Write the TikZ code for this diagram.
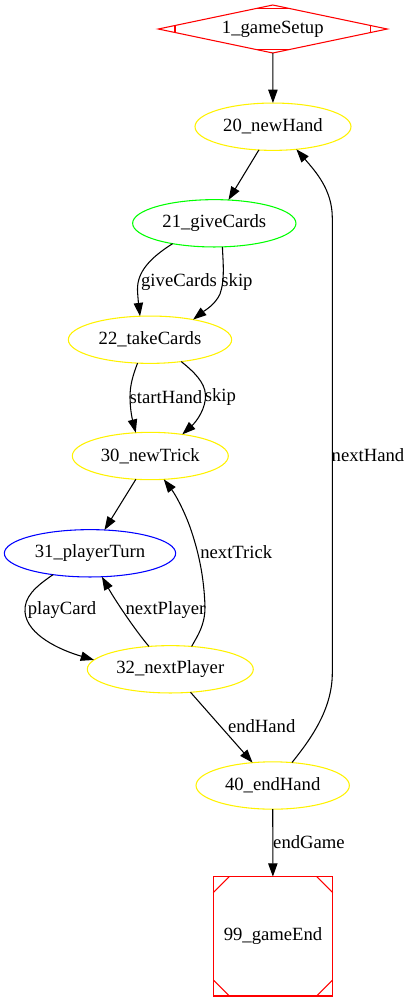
\documentclass[tikz,border=0pt]{standalone}
\usepackage{fontspec}
\setmainfont{Liberation Serif}
\usetikzlibrary{shapes.geometric,arrows.meta,calc}
\begin{document}
\begin{tikzpicture}[x=0.75pt,y=-0.75pt,
  every node/.style={font=\fontsize{14pt}{16pt}\selectfont},
  st/.style={draw,ellipse,line width=0.8pt,inner sep=0pt,outer sep=0pt,minimum height=35.5pt},
  edge/.style={draw=black,line width=0.8pt,-{Triangle[length=10pt,width=7pt]}},
  lbl/.style={inner sep=0pt}]
\useasboundingbox (0,0) rectangle (410,1001);
% nodes
\node[draw=red,diamond,line width=0.8pt,minimum width=171.75pt,minimum height=36pt,inner sep=0pt,outer sep=0pt,aspect=4.77] (n1) at (272.8,29) {1\_gameSetup};
\node[st,draw=yellow,minimum width=117pt] (n20) at (273,126.7) {20\_newHand};
\node[st,draw=green,minimum width=122.5pt] (n21) at (214.3,223.3) {21\_giveCards};
\node[st,draw=yellow,minimum width=122.5pt] (n22) at (150,339.7) {22\_takeCards};
\node[st,draw=yellow,minimum width=117pt] (n30) at (150.3,456) {30\_newTrick};
\node[st,draw=blue,minimum width=128.5pt] (n31) at (90,553.3) {31\_playerTurn};
\node[st,draw=yellow,minimum width=124.5pt] (n32) at (170.3,669.3) {32\_nextPlayer};
\node[st,draw=yellow,minimum width=115pt] (n40) at (272.7,785.5) {40\_endHand};
\node[draw=red,rectangle,line width=0.8pt,minimum width=89.5pt,minimum height=89.5pt,inner sep=0pt,outer sep=0pt] (n99) at (273,936.3) {99\_gameEnd};
% Mdiamond marks
\draw[red,line width=0.8pt] ($(n1.center)+(-97.8,-3.5)$) -- ($(n1.center)+(-97.8,3.5)$);
\draw[red,line width=0.8pt] ($(n1.center)+(97.8,-3.5)$) -- ($(n1.center)+(97.8,3.5)$);
\draw[red,line width=0.8pt] ($(n1.center)+(-16.7,-20.5)$) -- ($(n1.center)+(16.7,-20.5)$);
\draw[red,line width=0.8pt] ($(n1.center)+(-16.7,20.5)$) -- ($(n1.center)+(16.7,20.5)$);
% Msquare marks
\draw[red,line width=0.8pt] ($(n99.north west)+(0,16)$) -- ($(n99.north west)+(16,0)$);
\draw[red,line width=0.8pt] ($(n99.north east)+(-16,0)$) -- ($(n99.north east)+(0,16)$);
\draw[red,line width=0.8pt] ($(n99.south west)+(0,-16)$) -- ($(n99.south west)+(16,0)$);
\draw[red,line width=0.8pt] ($(n99.south east)+(-16,0)$) -- ($(n99.south east)+(0,-16)$);
% edges
\draw[edge] (n1) -- (n20);
\draw[edge] (n20) -- (n21);
\draw[edge] (n21.206) .. controls (150,258) and (137,272) .. (137.5,290) .. controls (138,300) and (139,308) .. (n22.113);
\draw[edge] (n21.-71) .. controls (223,262) and (225,280) .. (220,294) .. controls (215,305) and (204,311) .. (n22.25);
\draw[edge] (n22.242) .. controls (133,375) and (130,385) .. (130,397) .. controls (130,408) and (132,418) .. (n30.122);
\draw[edge] (n22.-35) .. controls (193,371) and (205,382) .. (205.5,395) .. controls (206,408) and (197,421) .. (n30.34);
\draw[edge] (n30) -- (n31);
\draw[edge] (n31.210) .. controls (35,587) and (24,597) .. (25,612) .. controls (27,635) and (60,650) .. (n32.173);
\draw[edge] (n32.133) .. controls (135,630) and (115,600) .. (n31.-63);
\draw[edge] (n32.47) .. controls (198,635) and (205,625) .. (205,607) .. controls (204,575) and (198,550) .. (190,527) .. controls (183,508) and (175,494) .. (n30.-60);
\draw[edge] (n32) -- (n40);
\draw[edge] (n40.50) .. controls (310,740) and (332.3,710) .. (332.3,673) -- (332.3,218) .. controls (332.3,190) and (316,172) .. (n20.-44);
\draw[edge] (n40) -- (n99);
% labels
\node[lbl] (l1) at (179,281.7) {giveCards};
\node[lbl] (l2) at (237,281.7) {skip};
\node[lbl] (l3) at (166,397) {startHand};
\node[lbl] (l4) at (220.4,397) {skip};
\node[lbl] (l5) at (62,610) {playCard};
\node[lbl] (l6) at (165.5,610) {nextPlayer};
\node[lbl] (l7) at (236.3,551.7) {nextTrick};
\node[lbl] (l8) at (261.7,726) {endHand};
\node[lbl] (l9) at (368,455) {nextHand};
\node[lbl] (l10) at (309,842) {endGame};
\end{tikzpicture}
\end{document}
